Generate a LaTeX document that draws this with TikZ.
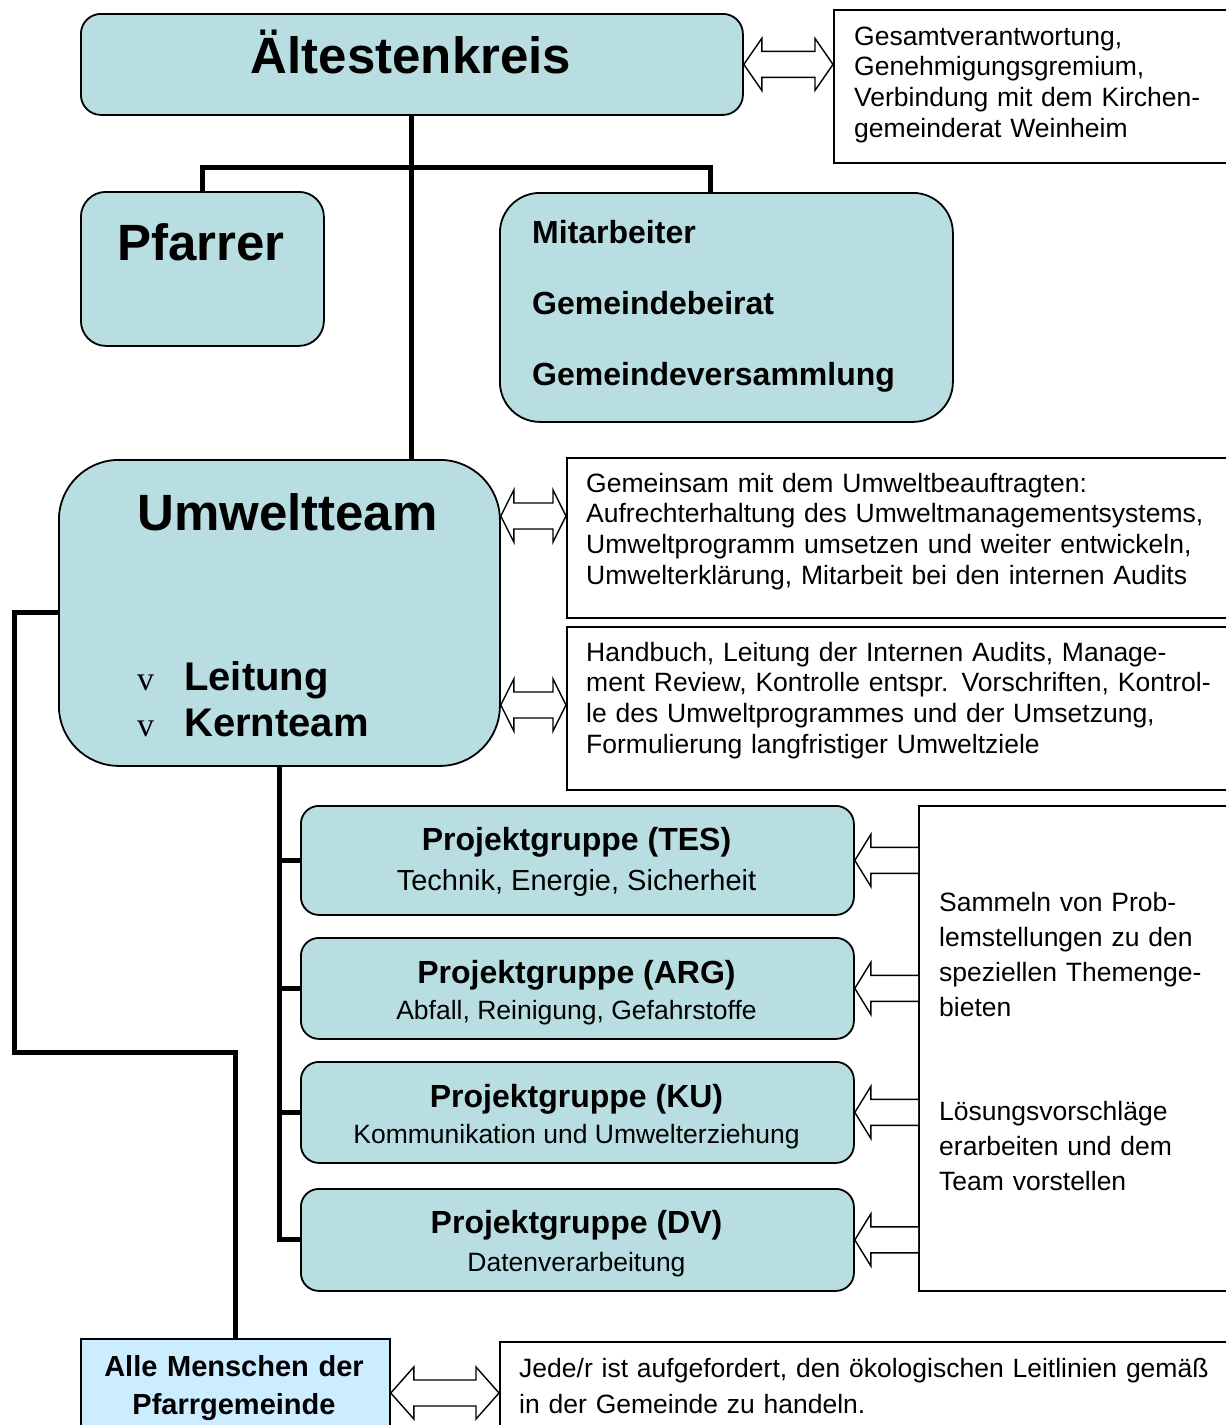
\documentclass[tikz,border=0pt]{standalone}
\usepackage{fontspec}
\setmainfont{Liberation Sans}
\newfontfamily\bulletfont{Liberation Serif}
\usepackage{xcolor}
\usepackage{tikz}
\usetikzlibrary{calc}
\definecolor{teamfill}{RGB}{184,222,226}
\definecolor{allfill}{RGB}{204,236,255}
\newcommand{\fsz}[2]{\fontsize{#1}{#2}\selectfont}
\newcommand{\dblarrow}[3]{\draw[blockarrow] (#1) -- ($(#1)+(#3,-26)$) -- ($(#1)+(#3,-13)$) -- ($(#2)+(-#3,-13)$) -- ($(#2)+(-#3,-26)$) -- (#2) -- ($(#2)+(-#3,26)$) -- ($(#2)+(-#3,13)$) -- ($(#1)+(#3,13)$) -- ($(#1)+(#3,26)$) -- cycle;}
\newcommand{\inarrow}[3]{\draw[blockarrow] ($(#2)+(0,-13)$) -- ($(#1)+(#3,-13)$) -- ($(#1)+(#3,-26)$) -- (#1) -- ($(#1)+(#3,26)$) -- ($(#1)+(#3,13)$) -- ($(#2)+(0,13)$);}

\begin{document}
\begin{tikzpicture}[x=1pt,y=-1pt,
  teambox/.style={draw,line width=1.8pt,fill=teamfill,anchor=north west,inner sep=0pt},
  infobox/.style={draw,line width=1.5pt,fill=white,anchor=north west,inner sep=0pt},
  conn/.style={line width=5pt},
  blockarrow/.style={line width=1.4pt,fill=white,line join=miter},
  bigtitle/.style={inner sep=0pt,font=\bfseries\fsz{51}{60}},
  infotext/.style={anchor=base west,inner sep=0pt,text width=700pt,align=left,font=\fsz{26.5}{30.7}},
  pgtitle/.style={anchor=base,inner sep=0pt,font=\bfseries\fsz{32}{38}},
  pgsub/.style={anchor=base,inner sep=0pt,font=\fsz{26.5}{31}}]
\useasboundingbox (0,0) rectangle (1226,1425);
\clip (0,0) rectangle (1226,1425);

\node[teambox,rounded corners=20pt,minimum width=662pt,minimum height=101pt] (aelt) at (80,13) {};
\node[infobox,minimum width=410pt,minimum height=153pt] (gesamt) at (833,9) {};
\node[teambox,rounded corners=25pt,minimum width=243pt,minimum height=154pt] (pfarrer) at (80,191) {};
\node[teambox,rounded corners=40pt,minimum width=453pt,minimum height=229pt] (mitarb) at (499,192) {};
\node[teambox,rounded corners=60pt,minimum width=441pt,minimum height=306pt] (umwelt) at (58,459) {};
\node[infobox,minimum width=680pt,minimum height=160pt] (umwA) at (566,457) {};
\node[infobox,minimum width=680pt,minimum height=163pt] (umwB) at (566,626) {};
\node[teambox,rounded corners=18pt,minimum width=553pt,minimum height=109pt] (pgtes) at (300,805) {};
\node[teambox,rounded corners=18pt,minimum width=553pt,minimum height=101pt] (pgarg) at (300,937) {};
\node[teambox,rounded corners=18pt,minimum width=553pt,minimum height=101pt] (pgku) at (300,1061) {};
\node[teambox,rounded corners=18pt,minimum width=553pt,minimum height=102pt] (pgdv) at (300,1188) {};
\node[infobox,minimum width=330pt,minimum height=485pt] (sammeln) at (918,805) {};
\node[teambox,fill=allfill,minimum width=309pt,minimum height=110pt] (alle) at (80,1338) {};
\node[infobox,minimum width=750pt,minimum height=110pt] (jede) at (499,1341) {};

\node[bigtitle,anchor=base] (aelttxt) at (411,73) {Ältestenkreis};
\node[bigtitle,anchor=base] (pfarrertxt) at (201,260) {Pfarrer};
\node[bigtitle,anchor=base west] (umwelttxt) at (137,530) {Umweltteam};
\node[anchor=base west,inner sep=0pt,text width=420pt,align=left,font=\bfseries\fsz{32}{71}] (mitarbtxt) at (532,243)
  {Mitarbeiter\\Gemeindebeirat\\Gemeindeversammlung};
\node[anchor=base west,inner sep=0pt,font=\bulletfont\fsz{34}{40}] (bul1) at (137,690) {v};
\node[anchor=base west,inner sep=0pt,font=\bulletfont\fsz{34}{40}] (bul2) at (137,736) {v};
\node[anchor=base west,inner sep=0pt,font=\bfseries\fsz{40}{47}] (leittxt) at (184,690) {Leitung};
\node[anchor=base west,inner sep=0pt,font=\bfseries\fsz{40}{47}] (kerntxt) at (184,736) {Kernteam};

\node[infotext] (gesamttxt) at (854,45)
  {Gesamtverantwortung,\\Genehmigungsgremium,\\Verbindung mit dem Kirchen-\\gemeinderat Weinheim};
\node[infotext] (umwAtxt) at (586,492)
  {Gemeinsam mit dem Umweltbeauftragten:\\Aufrechterhaltung des Umweltmanagementsystems,\\Umweltprogramm umsetzen und weiter entwickeln,\\Umwelterklärung, Mitarbeit bei den internen Audits};
\node[infotext] (umwBtxt) at (586,661)
  {Handbuch, Leitung der Internen Audits, Manage-\\ment Review, Kontrolle entspr. Vorschriften, Kontrol-\\le des Umweltprogrammes und der Umsetzung,\\Formulierung langfristiger Umweltziele};
\node[infotext,font=\fsz{26.5}{35}] (sammelntxt) at (939,911)
  {Sammeln von Prob-\\lemstellungen zu den\\speziellen Themenge-\\bieten};
\node[infotext,font=\fsz{26.5}{35}] (loesungtxt) at (939,1120)
  {Lösungsvorschläge\\erarbeiten und dem\\Team vorstellen};
\node[infotext,font=\fsz{26.5}{36}] (jedetxt) at (519,1377)
  {Jede/r ist aufgefordert, den ökologischen Leitlinien gemäß\\in der Gemeinde zu handeln.};

\node[pgtitle] (testitle) at (576.5,850) {Projektgruppe (TES)};
\node[pgsub,font=\fsz{29}{34}] (tessub) at (576.5,890) {Technik, Energie, Sicherheit};
\node[pgtitle] (argtitle) at (576.5,983) {Projektgruppe (ARG)};
\node[pgsub] (argsub) at (576.5,1019) {Abfall, Reinigung, Gefahrstoffe};
\node[pgtitle] (kutitle) at (576.5,1107) {Projektgruppe (KU)};
\node[pgsub] (kusub) at (576.5,1143) {Kommunikation und Umwelterziehung};
\node[pgtitle] (dvtitle) at (576.5,1233) {Projektgruppe (DV)};
\node[pgsub] (dvsub) at (576.5,1271) {Datenverarbeitung};

\node[anchor=base,inner sep=0pt,align=center,text width=300pt,font=\bfseries\fsz{29}{38}] (alletxt) at (234,1376)
  {Alle Menschen der\\Pfarrgemeinde};

\coordinate (fork) at (411,167);
\coordinate (bend) at (14,1052);
\draw[conn] (aelt.south) -- (aelt.south |- umwelt.north);
\draw[conn] (pfarrer.north) |- (fork) -| ([xshift=-15.5pt]mitarb.north);
\draw[conn] (umwelt.south) |- (pgdv.west);
\foreach \g in {pgtes,pgarg,pgku}
  { \draw[conn] (umwelt.south |- \g.west) -- (\g.west); }
\draw[conn] (umwelt.west) -| (bend) -| (alle.north);

\coordinate (ar1l) at (aelt.east);
\coordinate (ar1r) at (gesamt.west |- aelt.east);
\dblarrow{ar1l}{ar1r}{18}
\coordinate (ar2l) at (umwelt.east |- 0,516);
\coordinate (ar2r) at (umwA.west |- 0,516);
\dblarrow{ar2l}{ar2r}{13}
\coordinate (ar3l) at (umwelt.east |- 0,705);
\coordinate (ar3r) at (umwB.west |- 0,705);
\dblarrow{ar3l}{ar3r}{13}
\coordinate (ar4l) at (alle.east |- 0,1393);
\coordinate (ar4r) at (jede.west |- 0,1393);
\dblarrow{ar4l}{ar4r}{23}
\foreach \g in {pgtes,pgarg,pgku,pgdv}
  { \coordinate (tip) at (\g.east);
    \coordinate (tail) at (sammeln.west |- \g.east);
    \inarrow{tip}{tail}{16} }
\end{tikzpicture}
\end{document}
